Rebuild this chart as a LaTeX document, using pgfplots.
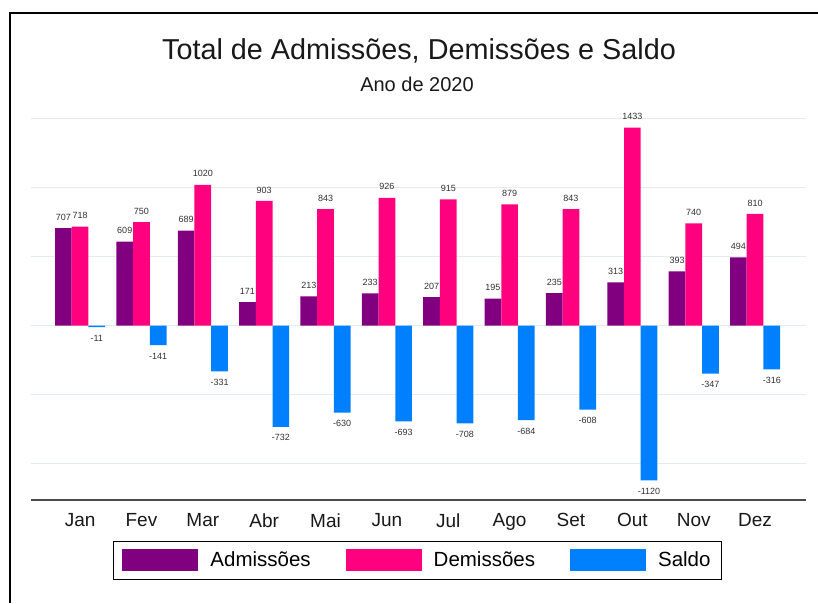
\documentclass[border=0pt]{standalone}
\usepackage{fontspec}
\setmainfont{Liberation Sans}
\usepackage{pgfplots}
\usepackage{pgfplotstable}
\pgfplotsset{compat=1.18}
\definecolor{adm}{RGB}{128,0,128}
\definecolor{dem}{RGB}{255,0,127}
\definecolor{sal}{RGB}{0,128,255}
\definecolor{gridc}{RGB}{226,238,238}
\definecolor{lblc}{RGB}{50,50,50}
\definecolor{axc}{RGB}{75,75,75}
\pgfplotstableread{
x adm dem sal
0 707 718 -11
1 609 750 -141
2 689 1020 -331
3 171 903 -732
4 213 843 -630
5 233 926 -693
6 207 915 -708
7 195 879 -684
8 235 843 -608
9 313 1433 -1120
10 393 740 -347
11 494 810 -316
}\datatab
\begin{document}
\begin{tikzpicture}
\fill[white] (0pt,0pt) rectangle (818pt,603pt);
\path[use as bounding box] (0pt,0pt) rectangle (818pt,603pt);
\draw[black, line width=1.5pt] (10pt,0pt) -- (10pt,590pt) -- (818pt,590pt);
\node[anchor=base, font=\fontsize{28.8}{30}\selectfont, text=black!90] at (419pt,543pt) {Total de Admissões, Demissões e Saldo};
\node[anchor=base, font=\fontsize{20}{22}\selectfont, text=black!90] at (417pt,511pt) {Ano de 2020};
\begin{axis}[
  at={(31pt,103pt)}, anchor=south west,
  scale only axis, width=775pt, height=384pt,
  ybar, bar width=16.7pt,
  xmin=-0.8, xmax=11.83, ymin=-1262, ymax=1518,
  enlargelimits=false,
  xtick={0,1,2,3,4,5,6,7,8,9,10,11},
  xticklabels={Jan,Fev,Mar,Abr,Mai,Jun,Jul,Ago,Set,Out,Nov,Dez},
  xticklabel style={font=\fontsize{19}{21}\selectfont, text=black!90, yshift=-10pt},
  ytick={-1000,-500,0,500,1000,1500},
  yticklabels={},
  ymajorgrids, grid style={color=gridc, line width=1.3pt},
  axis x line*=bottom,
  axis y line*=left,
  y axis line style={draw=none},
  x axis line style={-, draw=axc, line width=1.8pt},
  major tick length=0pt,
  tick style={draw=none},
  /pgf/number format/.cd, 1000 sep={}, assume math mode=true, /pgfplots/.cd,
  nodes near coords,
  nodes near coords align=vertical,
  every node near coord/.append style={font=\fontsize{9}{10}\selectfont, text=lblc, inner ysep=7.5pt, inner xsep=0pt},
  legend style={at={(0.4987,-0.156)}, anchor=center, draw=black, line width=0.8pt,
    font=\fontsize{20.5}{22}\selectfont, inner xsep=9pt, inner ysep=8pt,
    /tikz/every odd column/.append style={column sep=10pt},
    /tikz/every even column/.append style={column sep=33pt}},
  legend columns=3,
  legend cell align=left,
  legend image code/.code={\fill[#1,draw=none] (0pt,-11pt) rectangle (76pt,11pt);},
]
\addplot[fill=adm, draw=none, bar shift=-16.7pt] table[x=x,y=adm]{\datatab};
\addplot[fill=dem, draw=none, bar shift=0pt] table[x=x,y=dem]{\datatab};
\addplot[fill=sal, draw=none, bar shift=16.7pt] table[x=x,y=sal]{\datatab};
\legend{Admissões,Demissões,Saldo}
\end{axis}
\end{tikzpicture}
\end{document}
